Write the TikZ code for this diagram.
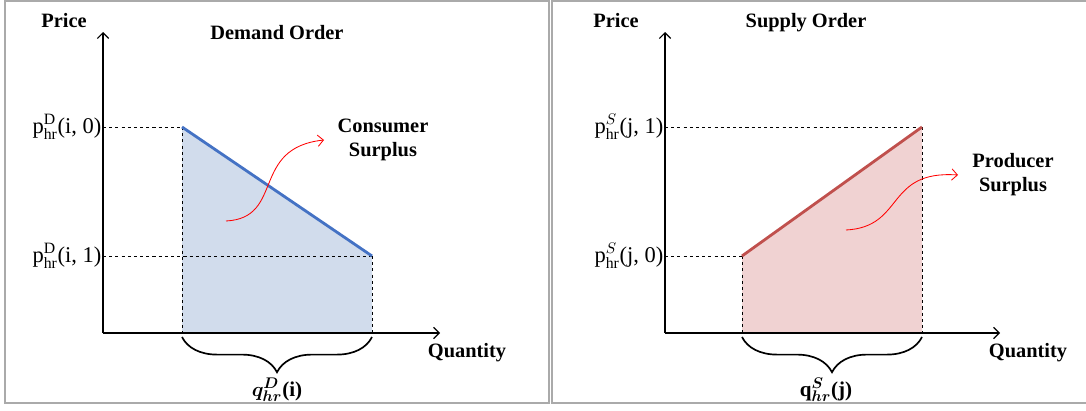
\documentclass[tikz,border=0pt]{standalone}
\usepackage{fontspec}
\usepackage{bm}
\setmainfont{Liberation Serif}
\usetikzlibrary{decorations.pathreplacing,arrows.meta}
\definecolor{demandline}{RGB}{68,114,196}
\definecolor{demandfill}{RGB}{209,220,236}
\definecolor{supplyline}{RGB}{192,80,77}
\definecolor{supplyfill}{RGB}{240,210,210}
\definecolor{panelgray}{RGB}{170,170,170}
\begin{document}
\begin{tikzpicture}[x=0.025cm,y=0.025cm,>={Straight Barb[length=4pt,width=8pt]}]
		\tikzset{axis/.style={->, line width=0.8pt},
			guide/.style={dashed, line width=0.6pt, dash pattern=on 2.2pt off 2.2pt},
			title/.style={font=\fontsize{14.5}{17}\selectfont\bfseries, align=center},
			plabel/.style={font=\fontsize{16}{18}\selectfont, anchor=east, inner sep=1pt},
			surplus/.style={->, red, line width=0.6pt},
			qbrace/.style={decorate, decoration={brace, amplitude=0.88cm}, line width=1.2pt},
			panel/.style={panelgray, line width=1.4pt}};
		\useasboundingbox (0,0) rectangle (1086,410);
		% panels
		\draw[panel] (5,7) rectangle (549,409);
		\draw[panel] (1086,409) -- (552,409) -- (552,7) -- (1086,7);
		% demand side
		\coordinate (O1) at (103, 77);
		\coordinate (Py1) at (103,378);
		\coordinate (Qx1) at (440, 77);
		\coordinate (DA) at (182,283);
		\coordinate (DB) at (372,154);
		\coordinate (DA0) at (182, 77);
		\coordinate (DB0) at (372, 77);
		\coordinate (DAy) at (103,283);
		\coordinate (DBy) at (103,154);
		\fill[demandfill] (DA)--(DB)--(DB0)--(DA0)--cycle;
		\draw[guide] (DAy)--(DA);
		\draw[guide] (DBy)--(DB);
		\draw[guide] (DA)--(DA0);
		\draw[guide] (DB)--(DB0);
		\draw[demandline, line width=2pt] (DA)--(DB);
		\draw[axis] (O1)--(Py1);
		\draw[axis] (O1)--(Qx1);
		\node[title] (price1) at ( 64,389) {Price};
		\node[title] (dorder) at (277,377) {Demand Order};
		\node[title] (qty1)   at (467, 57) {Quantity};
		\node[title] (cons)   at (383,270) {Consumer\\Surplus};
		\node[plabel] (pd0) at (DAy) {$\mathrm{p}^{\mathrm{D}}_{\mathrm{hr}}$(i, 0)};
		\node[plabel] (pd1) at (DBy) {$\mathrm{p}^{\mathrm{D}}_{\mathrm{hr}}$(i, 1)};
		\coordinate (cs0) at (226,189);
		\coordinate (cs1) at (324,270);
		\draw[surplus] (cs0) .. controls (285,192) and (250,262) .. (cs1);
		\coordinate (qdr) at (372,73);
		\coordinate (qdl) at (182,73);
		\draw[qbrace] (qdr) -- (qdl);
		\node[font=\fontsize{15}{17}\selectfont, inner sep=1pt] (qd) at (277, 20) {$\bm{q^{D}_{hr}}$\textbf{(i)}};
		% supply side
		\coordinate (O2) at (665, 77);
		\coordinate (Py2) at (665,378);
		\coordinate (Qx2) at (1000,77);
		\coordinate (SA) at (742,154);
		\coordinate (SB) at (922,283);
		\coordinate (SA0) at (742, 77);
		\coordinate (SB0) at (922, 77);
		\coordinate (SAy) at (665,154);
		\coordinate (SBy) at (665,283);
		\fill[supplyfill] (SA)--(SB)--(SB0)--(SA0)--cycle;
		\draw[guide] (SAy)--(SA);
		\draw[guide] (SBy)--(SB);
		\draw[guide] (SA)--(SA0);
		\draw[guide] (SB)--(SB0);
		\draw[supplyline, line width=2pt] (SA)--(SB);
		\draw[axis] (O2)--(Py2);
		\draw[axis] (O2)--(Qx2);
		\node[title] (price2) at ( 616,389) {Price};
		\node[title] (sorder) at ( 806,387) {Supply Order};
		\node[title] (qty2)   at (1028, 57) {Quantity};
		\node[title] (prod)   at (1013,235) {Producer\\Surplus};
		\node[plabel] (ps0) at (SAy) {$\mathrm{p}^{S}_{\mathrm{hr}}$(j, 0)};
		\node[plabel] (ps1) at (SBy) {$\mathrm{p}^{S}_{\mathrm{hr}}$(j, 1)};
		\coordinate (ps0c) at (846,180);
		\coordinate (ps1c) at (958,235);
		\draw[surplus] (ps0c) .. controls (905,183) and (885,240) .. (ps1c);
		\coordinate (qsr) at (922,73);
		\coordinate (qsl) at (742,73);
		\draw[qbrace] (qsr) -- (qsl);
		\node[font=\fontsize{15}{17}\selectfont, inner sep=1pt] (qs) at (826, 20) {$\mathbf{q}^{\bm{S}}_{\bm{hr}}$\textbf{(j)}};
	\end{tikzpicture}
\end{document}
